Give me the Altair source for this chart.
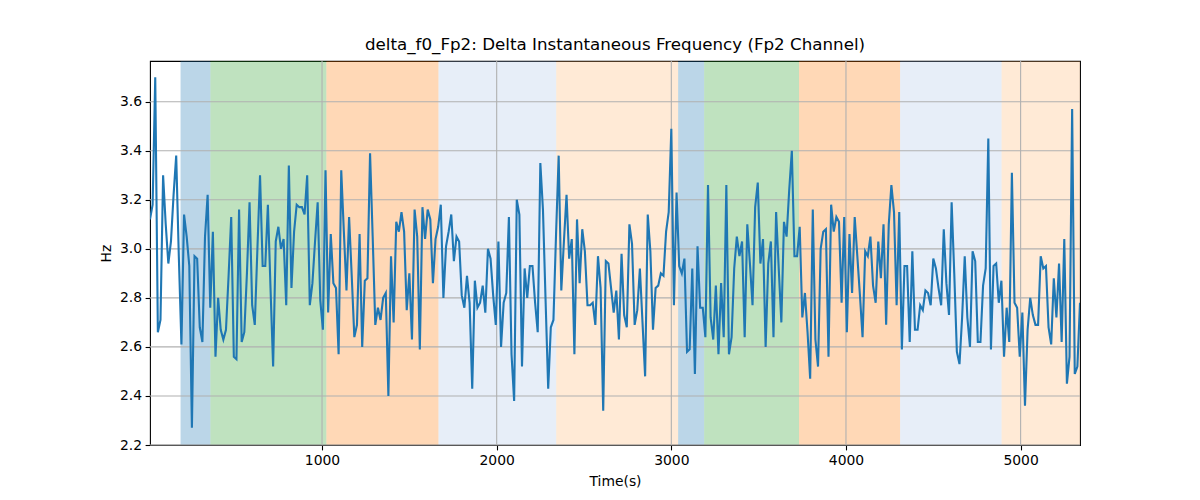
import pandas as pd
import altair as alt

# delta instantaneous frequency, one sample every 15 s
t_start = 15
t_step = 15
hz = [
    3.12, 3.18, 3.70, 2.66, 2.71, 3.30, 3.10, 2.94, 3.03, 3.22, 3.38, 2.97, 2.61, 3.14, 3.05, 2.93, 2.27, 2.97, 2.96, 2.68,
    2.62, 3.05, 3.22, 2.76, 3.07, 2.56, 2.80, 2.67, 2.63, 2.67, 2.89, 3.13, 2.56, 2.55, 3.16, 2.62, 2.66, 2.90, 3.19, 2.77,
    2.69, 3.00, 3.30, 2.93, 2.93, 3.18, 2.84, 2.52, 3.03, 3.09, 3.00, 3.04, 2.77, 3.34, 2.84, 3.07, 3.18, 3.17, 3.17, 3.14,
    3.30, 2.77, 2.86, 3.03, 3.19, 2.79, 2.67, 3.32, 2.74, 3.06, 2.86, 2.84, 2.57, 3.32, 3.07, 2.83, 3.13, 2.89, 2.64, 2.69,
    3.06, 2.60, 2.87, 2.88, 3.39, 3.05, 2.69, 2.76, 2.71, 2.80, 2.82, 2.40, 2.97, 2.70, 3.11, 3.07, 3.15, 3.07, 2.75, 2.90,
    2.63, 3.16, 3.05, 2.59, 3.17, 3.04, 3.16, 3.12, 2.86, 3.04, 3.09, 3.18, 2.80, 3.01, 3.07, 3.14, 2.95, 3.05, 3.03,
    2.81, 2.76, 2.89, 2.78, 2.43, 2.87, 2.76, 2.78, 2.85, 2.74, 3.00, 2.96, 2.81, 2.69, 3.03, 2.60, 2.78, 2.82, 3.13, 2.57,
    2.38, 3.20, 3.14, 2.52, 2.92, 2.80, 2.93, 2.93, 2.78, 2.66, 3.35, 3.16, 2.79, 2.43, 2.68, 2.71, 3.06, 3.38, 2.83, 3.03,
    3.22, 2.96, 3.04, 2.57, 3.12, 2.86, 3.08, 2.99, 2.77, 2.77, 2.78, 2.69, 2.97, 2.84, 2.34, 2.95, 2.94, 2.84, 2.74,
    2.83, 2.63, 2.98, 2.73, 2.68, 3.10, 3.02, 2.69, 2.75, 2.92, 2.70, 2.48, 3.14, 2.99, 2.67, 2.84, 2.85, 2.90, 2.89, 3.07,
    3.15, 3.49, 2.77, 3.23, 2.93, 2.90, 2.96, 2.58, 2.59, 2.92, 2.49, 3.01, 2.76, 2.76, 2.64, 3.26, 2.72, 2.63, 2.85, 2.57,
    2.86, 2.64, 3.26, 2.57, 2.64, 2.92, 3.05, 2.97, 3.03, 2.64, 3.10, 2.94, 2.77, 3.17, 3.27, 2.94, 3.04, 2.60,
    2.94, 3.03, 2.64, 3.15, 2.92, 2.70, 3.11, 3.05, 3.24, 3.40, 2.97, 2.97, 3.09, 2.72, 2.82, 2.66, 2.47, 3.16, 2.63, 2.52,
    3.00, 3.07, 3.08, 2.56, 3.18, 3.07, 3.13, 3.11, 2.78, 3.13, 2.66, 3.06, 2.82, 3.13, 2.97, 2.81, 2.64, 2.99, 2.97, 3.05,
    2.85, 2.78, 3.03, 2.88, 3.10, 2.69, 3.10, 3.26, 3.15, 2.77, 3.15, 2.59, 2.93, 2.93, 2.62, 2.99, 2.67, 2.67, 2.77, 2.75,
    2.83, 2.82, 2.77, 2.96, 2.92, 2.84, 2.77, 3.08, 2.86, 2.73, 3.19, 2.90, 2.58, 2.53, 2.72, 2.97, 2.72, 2.60, 2.99, 2.95,
    2.62, 2.62, 2.85, 2.92, 3.45, 2.59, 2.93, 2.94, 2.78, 2.87, 2.56, 2.76, 2.62, 3.31, 2.78, 2.76, 2.56, 2.74, 2.36, 2.67,
    2.80, 2.73, 2.69, 2.69, 2.97, 2.92, 2.93, 2.68, 2.61, 2.88, 2.72, 2.94, 2.62, 3.04, 2.45, 2.56, 3.57, 2.49, 2.52, 2.78,
]
times = [t_start + i * t_step for i in range(len(hz))]

# shaded segments
seg_start = [190, 361, 1025, 1667, 2341, 3039, 3188, 3731, 4310, 4891]
seg_end = [361, 1025, 1667, 2341, 3039, 3188, 3731, 4310, 4891, times[-1]]
seg_kind = ["A", "B", "C", "D", "E", "A", "B", "C", "D", "E"]
kinds = ["A", "B", "C", "D", "E"]
kind_color = ["#1f77b4", "#2ca02c", "#ff7f0e", "#aec7e8", "#ffbb78"]

x_ticks = [1000, 2000, 3000, 4000, 5000]
y_ticks = [2.2, 2.4, 2.6, 2.8, 3.0, 3.2, 3.4, 3.6]

line_df = pd.DataFrame({"t": times, "hz": hz})
seg_df = pd.DataFrame({"start": seg_start, "end": seg_end, "kind": seg_kind})

x_scale = alt.Scale(domain=[times[0], times[-1]], nice=False, zero=False)
y_scale = alt.Scale(domain=[2.2, 3.766], nice=False, zero=False)

font = "DejaVu Sans"

spans = alt.Chart(seg_df).mark_rect(strokeWidth=1, fillOpacity=0.3, strokeOpacity=0.3).encode(
    x=alt.X("start:Q", scale=x_scale),
    x2="end:Q",
    color=alt.Color("kind:N", scale=alt.Scale(domain=kinds, range=kind_color), legend=None),
)

grid_x = alt.Chart(pd.DataFrame({"v": x_ticks})).mark_rule(color="#b0b0b0", strokeWidth=1.1).encode(
    x=alt.X("v:Q", scale=x_scale)
)
grid_y = alt.Chart(pd.DataFrame({"v": y_ticks})).mark_rule(color="#b0b0b0", strokeWidth=1.1).encode(
    y=alt.Y("v:Q", scale=y_scale)
)

line = alt.Chart(line_df).mark_line(color="#1f77b4", strokeWidth=2.1, clip=True).encode(
    x=alt.X("t:Q", scale=x_scale, title="Time(s)",
            axis=alt.Axis(values=x_ticks, format="d", grid=False)),
    y=alt.Y("hz:Q", scale=y_scale, title="Hz",
            axis=alt.Axis(values=y_ticks, format=".1f", grid=False)),
)

chart = alt.layer(spans, grid_x, grid_y, line).properties(
    width=930,
    height=384,
    autosize=alt.AutoSizeParams(type="none"),
    padding={"left": 142, "top": 53, "right": 100, "bottom": 46},
    title=alt.TitleParams(
        "delta_f0_Fp2: Delta Instantaneous Frequency (Fp2 Channel)",
        font=font, fontSize=16.7, fontWeight="normal", color="black",
        anchor="middle", offset=7,
    ),
).configure_view(
    stroke="black", strokeWidth=1.1
).configure_axis(
    labelFont=font, labelFontSize=13.9, labelColor="black",
    titleFont=font, titleFontSize=13.9, titleFontWeight="normal", titleColor="black",
    tickColor="black", tickSize=4.9, tickWidth=1.1, labelPadding=3.5,
    domain=False,
).configure_axisX(
    titlePadding=7
).configure_axisY(
    titlePadding=6
)

chart.save("out.html", embed_options={"renderer": "svg", "actions": False})
